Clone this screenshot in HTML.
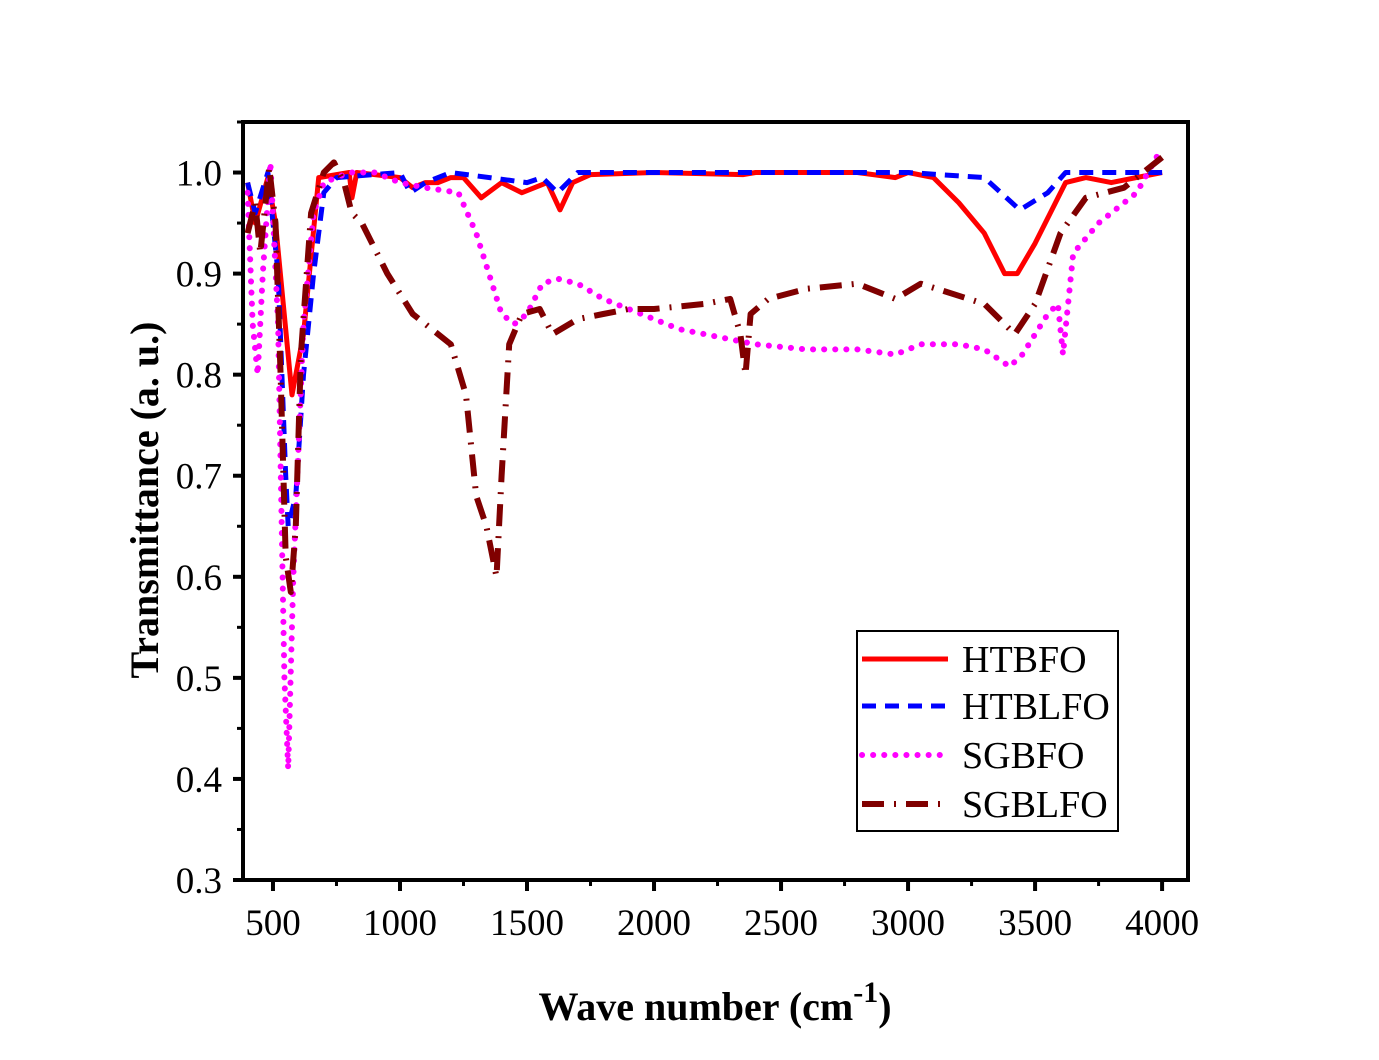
<!DOCTYPE html>
<html><head><meta charset="utf-8"><style>
body{margin:0;background:#fff}
svg text{font-family:"Liberation Serif",serif}
</style></head><body>
<svg id="chart" width="1379" height="1055" xmlns="http://www.w3.org/2000/svg"></svg>
<script>
const xTicks=[500,1000,1500,2000,2500,3000,3500,4000];
const yTicks=[0.3,0.4,0.5,0.6,0.7,0.8,0.9,1.0];
const seriesNames=["HTBFO","HTBLFO","SGBFO","SGBLFO"];
const htbfoW=[400,430,480,510,575,620,680,800,811,830,1000,1050,1100,1150,1200,1250,1320,1400,1480,1580,1630,1680,1750,2000,2350,2400,2800,2950,3000,3100,3200,3300,3380,3430,3500,3580,3620,3700,3800,4000];
const htbfoT=[0.99,0.95,0.995,0.95,0.78,0.84,0.995,1.0,0.975,1.0,0.995,0.985,0.99,0.99,0.995,0.995,0.975,0.99,0.98,0.99,0.963,0.99,0.998,1.0,0.998,1.0,1.0,0.995,1.0,0.995,0.97,0.94,0.9,0.9,0.93,0.97,0.99,0.995,0.99,1.0];
const htblfoW=[400,430,480,520,550,560,590,620,660,700,750,1000,1040,1100,1200,1500,1560,1620,1700,3000,3300,3440,3550,3620,4000];
const htblfoT=[0.99,0.96,1.0,0.9,0.7,0.65,0.68,0.8,0.9,0.98,0.995,1.0,0.98,0.99,1.0,0.99,0.995,0.98,1.0,1.0,0.995,0.963,0.98,1.0,1.0];
const sgbfoW=[400,420,440,460,490,520,545,560,580,620,660,700,800,900,1000,1100,1230,1300,1350,1400,1450,1500,1560,1620,1700,1800,1900,2000,2100,2200,2300,2400,2600,2800,2950,3050,3200,3300,3400,3450,3550,3590,3610,3650,3750,3900,4000];
const sgbfoT=[0.98,0.85,0.8,0.9,1.01,0.85,0.5,0.41,0.6,0.85,0.96,0.99,1.0,1.0,0.99,0.985,0.98,0.94,0.9,0.86,0.85,0.86,0.89,0.895,0.89,0.875,0.865,0.855,0.845,0.84,0.835,0.83,0.825,0.825,0.82,0.83,0.83,0.825,0.808,0.82,0.86,0.87,0.82,0.92,0.95,0.98,1.025];
const sgblfoW=[400,430,450,485,510,530,550,570,590,610,650,700,740,780,810,850,950,1050,1200,1260,1300,1340,1380,1400,1430,1480,1550,1600,1700,1800,1900,2000,2200,2300,2340,2360,2380,2450,2600,2800,2950,3050,3300,3420,3500,3600,3700,3850,4000];
const sgblfoT=[0.94,0.97,0.92,1.005,0.95,0.8,0.62,0.585,0.65,0.82,0.96,1.0,1.01,0.99,0.96,0.95,0.9,0.86,0.83,0.78,0.68,0.65,0.6,0.7,0.83,0.86,0.865,0.84,0.855,0.86,0.865,0.865,0.87,0.875,0.84,0.8,0.86,0.875,0.885,0.89,0.875,0.89,0.87,0.84,0.87,0.94,0.975,0.985,1.015];

const L=243,R=1188,T=122,B=880;
const X0=382,X1=4102,Y0=0.3,Y1=1.05;
const sx=v=>L+(v-X0)/(X1-X0)*(R-L);
const sy=v=>B-(v-Y0)/(Y1-Y0)*(B-T);
const svg=document.getElementById('chart');
const NS='http://www.w3.org/2000/svg';
function mk(tag,attrs,parent){const e=document.createElementNS(NS,tag);for(const k in attrs)e.setAttribute(k,attrs[k]);(parent||svg).appendChild(e);return e;}

for(let i=0;i<xTicks.length;i++){
  const v=xTicks[i];
  const t=mk('line',{x1:sx(v),x2:sx(v),y1:B,y2:B+11,stroke:'#000','stroke-width':4});
  
  
  if(v+250<X1){
    const m=mk('line',{x1:sx(v+250),x2:sx(v+250),y1:B,y2:B+6,stroke:'#000','stroke-width':3});
    
    
  }
  const lb=mk('text',{x:sx(v),y:B+55,'text-anchor':'middle','font-size':37});
  lb.textContent=v;
  
  
}
for(let i=0;i<yTicks.length;i++){
  const v=yTicks[i];
  const t=mk('line',{x1:L-10,x2:L,y1:sy(v),y2:sy(v),stroke:'#000','stroke-width':4});
  
  
  if(v+0.05<=Y1){
    const m=mk('line',{x1:L-6,x2:L,y1:sy(v+0.05),y2:sy(v+0.05),stroke:'#000','stroke-width':3});
    
    
  }
  const lb=mk('text',{x:L-21,y:sy(v)+13,'text-anchor':'end','font-size':37});
  lb.textContent=v.toFixed(1);
  
  
}

const clip=mk('clipPath',{id:'pc'});mk('rect',{x:L,y:T,width:R-L,height:B-T},clip);
const styles=[
 {c:'#ff0000',d:'',w:5},
 {c:'#0000ff',d:'14 9',w:5},
 {c:'#ff00ff',d:'0.1 11',w:6,cap:'round'},
 {c:'#800000',d:'22 10 2 10',w:6}
];
const data=[[htbfoW,htbfoT],[htblfoW,htblfoT],[sgbfoW,sgbfoT],[sgblfoW,sgblfoT]];
const names=['htbfo-line','htblfo-line','sgbfo-line','sgblfo-line'];
for(let s=0;s<4;s++){
  const [ws,ts]=data[s];
  const d=ws.map((w,i)=>(i?'L':'M')+sx(w).toFixed(1)+' '+sy(ts[i]).toFixed(1)).join(' ');
  const st=styles[s];
  const p=mk('path',{d,fill:'none',stroke:st.c,'stroke-width':st.w,'stroke-dasharray':st.d,'stroke-linecap':st.cap||'butt','stroke-linejoin':'round','clip-path':'url(#pc)'});
  
  
}

const frame=mk('rect',{x:L,y:T,width:R-L,height:B-T,fill:'none',stroke:'#000','stroke-width':4});



const lg=mk('g',{});


mk('rect',{x:857,y:631,width:261,height:200,fill:'#fff',stroke:'#000','stroke-width':2},lg);
const ly=[659,706,755,804];
for(let s=0;s<4;s++){
  const st=styles[s];
  const e=mk('g',{},lg);
  
  
  mk('line',{x1:862,x2:948,y1:ly[s],y2:ly[s],stroke:st.c,'stroke-width':st.w,'stroke-dasharray':st.d,'stroke-linecap':st.cap||'butt'},e);
  const t=mk('text',{x:962,y:ly[s]+13,'font-size':38},e);
  t.textContent=seriesNames[s];
}

const yt=mk('text',{x:0,y:0,'font-size':40,'font-weight':'bold','text-anchor':'middle',transform:'translate(158,500) rotate(-90)'});
yt.textContent='Transmittance (a. u.)';


const xt=mk('text',{x:715,y:1020,'font-size':40,'font-weight':'bold','text-anchor':'middle'});
xt.innerHTML='Wave number (cm<tspan dy="-18" font-size="30">-1</tspan><tspan dy="18">)</tspan>';


</script>
</body></html>
